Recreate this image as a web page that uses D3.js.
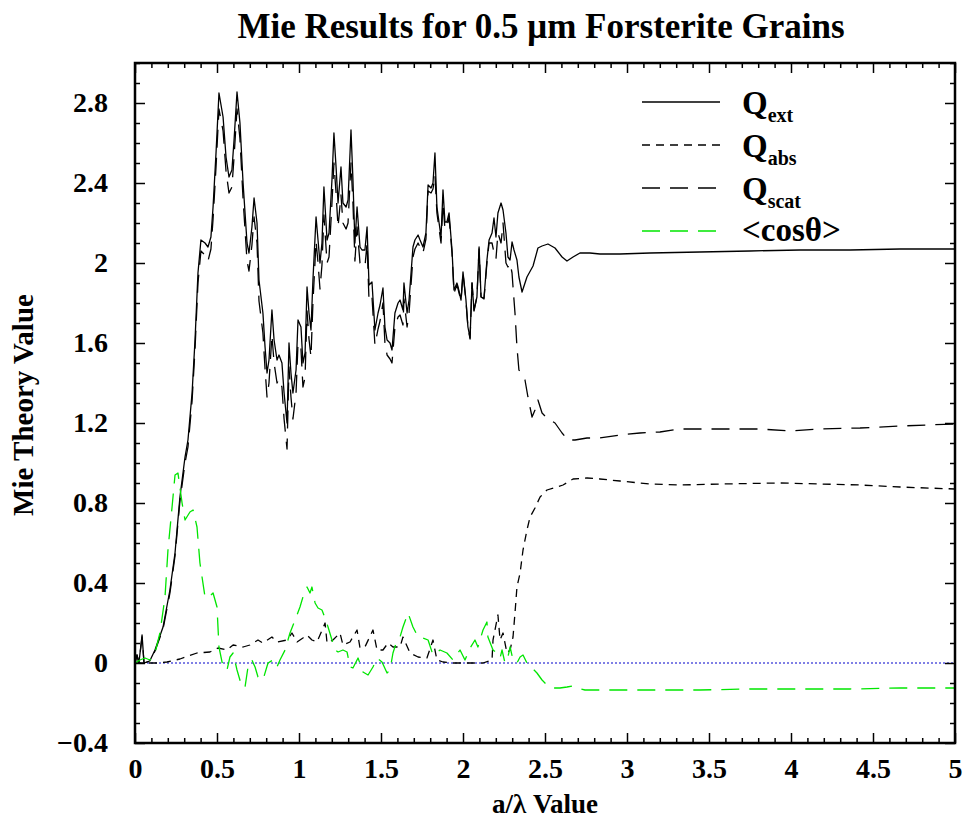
<!DOCTYPE html>
<html>
<head>
<meta charset="utf-8">
<script src="https://cdn.jsdelivr.net/npm/d3@7"></script>
<style>
  html, body { margin: 0; padding: 0; background: #fff; }
  svg text { font-family: "Liberation Serif", "Times New Roman", serif; font-weight: bold; }
</style>
</head>
<body>
<svg id="chart" width="963" height="819"></svg>
<script>
// ---- Data ----
const titleText = "Mie Results for 0.5 \u03BCm Forsterite Grains";
const xTitle = "a/\u03BB Value";
const yTitle = "Mie Theory Value";

const xTickValues = [0, 0.5, 1, 1.5, 2, 2.5, 3, 3.5, 4, 4.5, 5];
const xTickLabels = ["0", "0.5", "1", "1.5", "2", "2.5", "3", "3.5", "4", "4.5", "5"];
const yTickValues = [-0.4, 0, 0.4, 0.8, 1.2, 1.6, 2, 2.4, 2.8];
const yTickLabels = ["\u22120.4", "0", "0.4", "0.8", "1.2", "1.6", "2", "2.4", "2.8"];

const seriesNames = ["Qext", "Qabs", "Qscat", "cos"];

const qExt = [
 [0,0],[0.012,0.04],[0.024,0],[0.043,0.14],[0.055,0],[0.09,0.01],[0.122,0.065],[0.171,0.18],
 [0.213,0.365],[0.244,0.55],[0.274,0.83],[0.305,1.03],[0.323,1.115],[0.348,1.35],[0.366,1.615],
 [0.384,1.95],[0.402,2.115],[0.427,2.10],[0.445,2.08],[0.463,2.13],[0.476,2.28],[0.494,2.55],
 [0.512,2.85],[0.537,2.73],[0.555,2.53],[0.573,2.43],[0.591,2.465],[0.604,2.615],[0.622,2.855],
 [0.64,2.70],[0.659,2.40],[0.683,2.10],[0.695,2.05],[0.713,2.18],[0.726,2.325],[0.744,2.20],
 [0.756,1.915],[0.78,1.75],[0.793,1.58],[0.805,1.45],[0.817,1.515],[0.835,1.765],[0.848,1.615],
 [0.866,1.515],[0.878,1.54],[0.896,1.50],[0.909,1.35],[0.921,1.25],[0.927,1.20],[0.939,1.60],
 [0.951,1.45],[0.963,1.35],[0.982,1.465],[0.994,1.715],[1.012,1.68],[1.024,1.50],[1.037,1.55],
 [1.049,1.88],[1.061,1.75],[1.073,1.665],[1.085,1.915],[1.104,2.23],[1.116,2.115],[1.128,2.0],
 [1.14,2.10],[1.152,2.38],[1.171,2.115],[1.183,2.15],[1.201,2.415],[1.213,2.65],[1.226,2.48],
 [1.238,2.30],[1.256,2.48],[1.268,2.30],[1.287,2.28],[1.299,2.315],[1.317,2.665],[1.329,2.415],
 [1.341,2.10],[1.354,2.28],[1.372,2.08],[1.384,2.065],[1.402,2.065],[1.415,2.18],[1.427,1.89],
 [1.445,1.905],[1.463,1.665],[1.482,1.75],[1.494,1.79],[1.512,1.875],[1.524,1.68],[1.537,1.615],
 [1.555,1.60],[1.567,1.565],[1.585,1.75],[1.604,1.80],[1.616,1.815],[1.634,1.765],[1.64,1.90],
 [1.659,1.75],[1.671,1.815],[1.695,2.08],[1.707,2.115],[1.726,2.14],[1.738,2.115],[1.756,2.08],
 [1.774,2.15],[1.787,2.39],[1.805,2.375],[1.817,2.40],[1.829,2.55],[1.841,2.28],[1.866,2.13],
 [1.878,2.365],[1.89,2.205],[1.902,2.205],[1.915,2.25],[1.933,2.065],[1.945,1.865],[1.963,1.90],
 [1.97,1.88],[1.988,1.815],[2.0,1.955],[2.018,1.815],[2.03,1.68],[2.043,1.625],[2.055,1.90],
 [2.067,1.765],[2.085,1.83],[2.098,2.08],[2.11,1.83],[2.128,1.825],[2.146,2.015],[2.159,2.115],
 [2.177,2.15],[2.189,2.225],[2.201,2.13],[2.213,2.25],[2.232,2.30],[2.244,2.265],[2.262,2.15],
 [2.274,2.03],[2.287,2.015],[2.299,2.105],[2.311,2.065],[2.329,2.015],[2.341,1.93],[2.36,1.855],
 [2.39,1.93],[2.427,1.985],[2.457,2.075],[2.482,2.085],[2.518,2.095],[2.561,2.075],[2.604,2.03],
 [2.634,2.01],[2.671,2.03],[2.713,2.05],[2.774,2.05],[2.835,2.045],[2.957,2.045],[3.14,2.05],
 [3.445,2.055],[3.75,2.06],[4.055,2.065],[4.36,2.065],[4.665,2.07],[5.0,2.07]
];

const qScat = [
 [0,0],[0.012,0.04],[0.024,0],[0.043,0.13],[0.055,0],[0.09,0.01],[0.122,0.06],[0.171,0.17],
 [0.213,0.35],[0.244,0.535],[0.274,0.81],[0.305,1.0],[0.323,1.08],[0.348,1.31],[0.366,1.57],
 [0.384,1.9],[0.402,2.06],[0.427,2.04],[0.445,2.01],[0.463,2.07],[0.476,2.22],[0.494,2.48],
 [0.512,2.77],[0.537,2.66],[0.555,2.46],[0.573,2.35],[0.591,2.38],[0.604,2.53],[0.622,2.77],
 [0.64,2.62],[0.659,2.32],[0.683,2.01],[0.695,1.96],[0.713,2.09],[0.726,2.23],[0.744,2.1],
 [0.756,1.81],[0.78,1.65],[0.793,1.47],[0.805,1.33],[0.817,1.4],[0.835,1.64],[0.848,1.5],
 [0.866,1.4],[0.878,1.42],[0.896,1.38],[0.909,1.22],[0.921,1.12],[0.927,1.07],[0.939,1.48],
 [0.951,1.33],[0.963,1.22],[0.982,1.35],[0.994,1.6],[1.012,1.57],[1.024,1.38],[1.037,1.43],
 [1.049,1.76],[1.061,1.62],[1.073,1.53],[1.085,1.8],[1.104,2.11],[1.116,2.0],[1.128,1.87],
 [1.14,1.99],[1.152,2.24],[1.171,2.0],[1.183,2.03],[1.201,2.3],[1.213,2.5],[1.226,2.35],
 [1.238,2.18],[1.256,2.34],[1.268,2.2],[1.287,2.17],[1.299,2.2],[1.317,2.5],[1.329,2.3],
 [1.341,2.01],[1.354,2.18],[1.372,2.0],[1.384,1.99],[1.402,1.98],[1.415,2.1],[1.427,1.81],
 [1.445,1.83],[1.463,1.59],[1.482,1.67],[1.494,1.71],[1.512,1.8],[1.524,1.6],[1.537,1.54],
 [1.555,1.52],[1.567,1.5],[1.585,1.68],[1.604,1.73],[1.616,1.74],[1.634,1.69],[1.64,1.82],
 [1.659,1.68],[1.671,1.75],[1.695,2.03],[1.707,2.07],[1.726,2.1],[1.738,2.08],[1.756,2.05],
 [1.774,2.12],[1.787,2.36],[1.805,2.35],[1.817,2.37],[1.829,2.44],[1.841,2.25],[1.866,2.1],
 [1.878,2.3],[1.89,2.17],[1.902,2.18],[1.915,2.23],[1.933,2.05],[1.945,1.85],[1.963,1.89],
 [1.97,1.87],[1.988,1.81],[2.0,1.95],[2.018,1.81],[2.03,1.68],[2.043,1.62],[2.055,1.9],
 [2.067,1.76],[2.085,1.83],[2.098,2.07],[2.11,1.83],[2.128,1.82],[2.146,2.0],[2.159,2.1],
 [2.177,2.1],[2.189,2.05],[2.201,2.02],[2.213,2.15],[2.232,2.1],[2.244,2.2],[2.262,2.0],
 [2.274,1.98],[2.287,2.0],[2.299,1.95],[2.305,1.88],[2.317,1.75],[2.329,1.58],[2.341,1.465],
 [2.36,1.44],[2.378,1.415],[2.396,1.33],[2.421,1.23],[2.439,1.265],[2.457,1.315],[2.482,1.25],
 [2.512,1.225],[2.561,1.2],[2.604,1.15],[2.64,1.115],[2.683,1.115],[2.756,1.125],[2.835,1.125],
 [2.957,1.14],[3.079,1.15],[3.201,1.155],[3.323,1.17],[3.567,1.17],[3.811,1.17],[3.994,1.16],
 [4.177,1.17],[4.421,1.175],[4.665,1.185],[5.0,1.195]
];

const qAbs = [
 [0,0],[0.09,0],[0.134,0],[0.195,0.005],[0.274,0.02],[0.378,0.05],[0.457,0.055],[0.506,0.075],
 [0.561,0.065],[0.598,0.09],[0.659,0.08],[0.701,0.09],[0.75,0.115],[0.78,0.10],[0.835,0.13],
 [0.866,0.105],[0.927,0.115],[0.957,0.15],[0.988,0.105],[1.024,0.125],[1.049,0.14],[1.079,0.115],
 [1.11,0.105],[1.159,0.20],[1.171,0.10],[1.207,0.115],[1.25,0.15],[1.268,0.09],[1.311,0.105],
 [1.354,0.165],[1.372,0.075],[1.402,0.08],[1.451,0.165],[1.476,0.065],[1.512,0.065],[1.543,0.10],
 [1.573,0.08],[1.616,0.08],[1.634,0.13],[1.677,0.05],[1.726,0.03],[1.78,0.025],[1.817,0.115],
 [1.841,0.015],[1.878,0.005],[1.939,0],[2.122,0],[2.177,0.015],[2.183,0.115],[2.213,0.24],
 [2.226,0.115],[2.244,0.15],[2.268,0.05],[2.287,0.065],[2.305,0.13],[2.317,0.25],[2.329,0.38],
 [2.348,0.45],[2.366,0.565],[2.39,0.665],[2.409,0.73],[2.439,0.775],[2.47,0.83],[2.512,0.865],
 [2.573,0.88],[2.61,0.89],[2.671,0.92],[2.756,0.925],[2.835,0.92],[2.957,0.91],[3.14,0.895],
 [3.323,0.89],[3.567,0.895],[3.933,0.90],[4.177,0.895],[4.421,0.89],[4.665,0.88],[5.0,0.87]
];

const cosTheta = [
 [0,0],[0.03,0.015],[0.061,0.025],[0.091,0.015],[0.122,0.05],[0.152,0.15],[0.183,0.33],
 [0.201,0.565],[0.226,0.78],[0.244,0.94],[0.262,0.95],[0.287,0.80],[0.305,0.715],[0.335,0.755],
 [0.354,0.765],[0.378,0.68],[0.396,0.50],[0.427,0.33],[0.445,0.325],[0.476,0.35],[0.5,0.28],
 [0.512,0.08],[0.537,-0.02],[0.561,-0.035],[0.579,0.03],[0.598,0.05],[0.622,-0.035],[0.652,-0.12],
 [0.671,-0.12],[0.689,-0.02],[0.713,0.015],[0.732,-0.02],[0.75,-0.07],[0.78,-0.085],[0.811,0],
 [0.841,0.015],[0.866,-0.02],[0.884,0.015],[0.915,0.065],[0.945,0.15],[0.976,0.215],[1.006,0.28],
 [1.024,0.33],[1.049,0.38],[1.067,0.35],[1.079,0.38],[1.098,0.30],[1.116,0.275],[1.14,0.265],
 [1.159,0.225],[1.177,0.18],[1.201,0.115],[1.22,0.065],[1.238,0.055],[1.268,0.065],[1.293,0.055],
 [1.311,-0.02],[1.329,-0.025],[1.36,0.025],[1.39,-0.045],[1.421,-0.06],[1.451,-0.02],[1.476,0.025],
 [1.506,0.005],[1.537,-0.05],[1.555,-0.035],[1.573,0.05],[1.598,0.115],[1.616,0.13],[1.634,0.18],
 [1.665,0.25],[1.695,0.18],[1.726,0.13],[1.756,0.125],[1.787,0.115],[1.817,0.04],[1.86,0.065],
 [1.902,0.05],[1.939,0.015],[1.982,0.065],[2.012,0.015],[2.043,0.075],[2.073,0.115],[2.091,0.08],
 [2.122,0.165],[2.146,0.205],[2.152,0.13],[2.183,0.065],[2.207,0.05],[2.226,0.025],[2.238,0.065],
 [2.256,0],[2.274,0.03],[2.287,0.08],[2.305,0.015],[2.329,0],[2.348,0.03],[2.366,0.04],[2.39,0],
 [2.421,-0.025],[2.451,-0.05],[2.482,-0.085],[2.512,-0.11],[2.549,-0.125],[2.591,-0.125],
 [2.634,-0.12],[2.665,-0.115],[2.695,-0.125],[2.744,-0.135],[2.835,-0.135],[3.14,-0.135],
 [3.445,-0.135],[3.75,-0.13],[4.055,-0.13],[4.36,-0.13],[4.665,-0.125],[5.0,-0.125]
];

// ---- Layout ----
const plot = { left: 135, right: 955, top: 63, bottom: 743 };

const svg = d3.select("#chart");
const x = d3.scaleLinear().domain([0, 5]).range([plot.left, plot.right]);
const y = d3.scaleLinear().domain([-0.4, 3.0]).range([plot.bottom, plot.top]);

// clip
svg.append("clipPath").attr("id", "clip").append("rect")
  .attr("x", plot.left).attr("y", plot.top)
  .attr("width", plot.right - plot.left).attr("height", plot.bottom - plot.top);

// zero line (blue dotted)
svg.append("line")
  .attr("x1", x(0)).attr("x2", x(5)).attr("y1", y(0)).attr("y2", y(0))
  .attr("stroke", "#0000cc").attr("stroke-width", 1).attr("stroke-dasharray", "2,2");

const line = d3.line().x(d => x(d[0])).y(d => y(d[1]));
const styles = {
  Qext:  { data: qExt,  color: "#000", dash: null },
  Qabs:  { data: qAbs,  color: "#000", dash: "8,6" },
  Qscat: { data: qScat, color: "#000", dash: "18,10" },
  cos:   { data: cosTheta, color: "#00e600", dash: "18,10" }
};
const g = svg.append("g").attr("clip-path", "url(#clip)");
seriesNames.forEach(n => {
  const s = styles[n];
  g.append("path").datum(s.data)
    .attr("d", line)
    .attr("fill", "none")
    .attr("stroke", s.color)
    .attr("stroke-width", 1.3)
    .attr("stroke-linejoin", "round")
    .attr("stroke-dasharray", s.dash);
});

// ---- Axes (ticks inward on all 4 sides) ----
const xMinor = d3.range(0, 51).map(i => i / 10).filter(v => Math.abs(v * 2 - Math.round(v * 2)) > 1e-6);
const yMinor = d3.range(-4, 31).map(i => i / 10).filter(v => Math.abs(v / 0.4 - Math.round(v / 0.4)) > 1e-6);

function styleAxis(sel) {
  sel.select(".domain").remove();
  sel.selectAll("line").attr("stroke", "#000").attr("stroke-width", 1.5);
}
function styleLabels(sel) {
  sel.selectAll("text").attr("font-size", 28).attr("fill", "#000")
    .attr("font-family", "'Liberation Serif', 'Times New Roman', serif").attr("font-weight", "bold");
}

// bottom
svg.append("g").attr("transform", `translate(0,${plot.bottom})`)
  .call(d3.axisBottom(x).tickValues(xTickValues).tickSizeInner(-10).tickSizeOuter(0)
    .tickPadding(15).tickFormat((d, i) => xTickLabels[i]))
  .call(styleAxis).call(styleLabels);
svg.append("g").attr("transform", `translate(0,${plot.bottom})`)
  .call(d3.axisBottom(x).tickValues(xMinor).tickSizeInner(-5).tickSizeOuter(0).tickFormat(""))
  .call(styleAxis);
// top
svg.append("g").attr("transform", `translate(0,${plot.top})`)
  .call(d3.axisTop(x).tickValues(xTickValues).tickSizeInner(-10).tickSizeOuter(0).tickFormat(""))
  .call(styleAxis);
svg.append("g").attr("transform", `translate(0,${plot.top})`)
  .call(d3.axisTop(x).tickValues(xMinor).tickSizeInner(-5).tickSizeOuter(0).tickFormat(""))
  .call(styleAxis);
// left
svg.append("g").attr("transform", `translate(${plot.left},0)`)
  .call(d3.axisLeft(y).tickValues(yTickValues).tickSizeInner(-10).tickSizeOuter(0)
    .tickPadding(27).tickFormat((d, i) => yTickLabels[i]))
  .call(styleAxis).call(styleLabels);
svg.append("g").attr("transform", `translate(${plot.left},0)`)
  .call(d3.axisLeft(y).tickValues(yMinor).tickSizeInner(-5).tickSizeOuter(0).tickFormat(""))
  .call(styleAxis);
// right
svg.append("g").attr("transform", `translate(${plot.right},0)`)
  .call(d3.axisRight(y).tickValues(yTickValues).tickSizeInner(-10).tickSizeOuter(0).tickFormat(""))
  .call(styleAxis);
svg.append("g").attr("transform", `translate(${plot.right},0)`)
  .call(d3.axisRight(y).tickValues(yMinor).tickSizeInner(-5).tickSizeOuter(0).tickFormat(""))
  .call(styleAxis);

// frame
svg.append("rect")
  .attr("x", plot.left).attr("y", plot.top)
  .attr("width", plot.right - plot.left).attr("height", plot.bottom - plot.top)
  .attr("fill", "none").attr("stroke", "#000").attr("stroke-width", 2.5);

// ---- Titles ----
svg.append("text").attr("x", 541).attr("y", 38).attr("text-anchor", "middle")
  .attr("font-size", 35).attr("fill", "#000").text(titleText);
svg.append("text").attr("x", 545).attr("y", 813).attr("text-anchor", "middle")
  .attr("font-size", 27).attr("fill", "#000").text(xTitle);
svg.append("text").attr("transform", "translate(33,405) rotate(-90)").attr("text-anchor", "middle")
  .attr("font-size", 29).attr("fill", "#000").text(yTitle);

// ---- Legend ----
const legendItems = [
  { key: "Qext",  main: "Q", sub: "ext" },
  { key: "Qabs",  main: "Q", sub: "abs" },
  { key: "Qscat", main: "Q", sub: "scat" },
  { key: "cos",   main: "<cos\u03B8>", sub: "" }
];
const legendY = [102, 145, 188, 231];
legendItems.forEach((it, i) => {
  const s = styles[it.key];
  const ly = legendY[i];
  svg.append("line").attr("x1", 642).attr("x2", 720).attr("y1", ly).attr("y2", ly)
    .attr("stroke", s.color).attr("stroke-width", 1.3).attr("stroke-dasharray", s.dash);
  const t = svg.append("text").attr("x", 742).attr("y", ly + (it.sub ? 12 : 10))
    .attr("font-size", 33).attr("fill", "#000");
  t.append("tspan").text(it.main);
  if (it.sub) t.append("tspan").attr("dy", 8).attr("font-size", 20).text(it.sub);
});
</script>
</body>
</html>
